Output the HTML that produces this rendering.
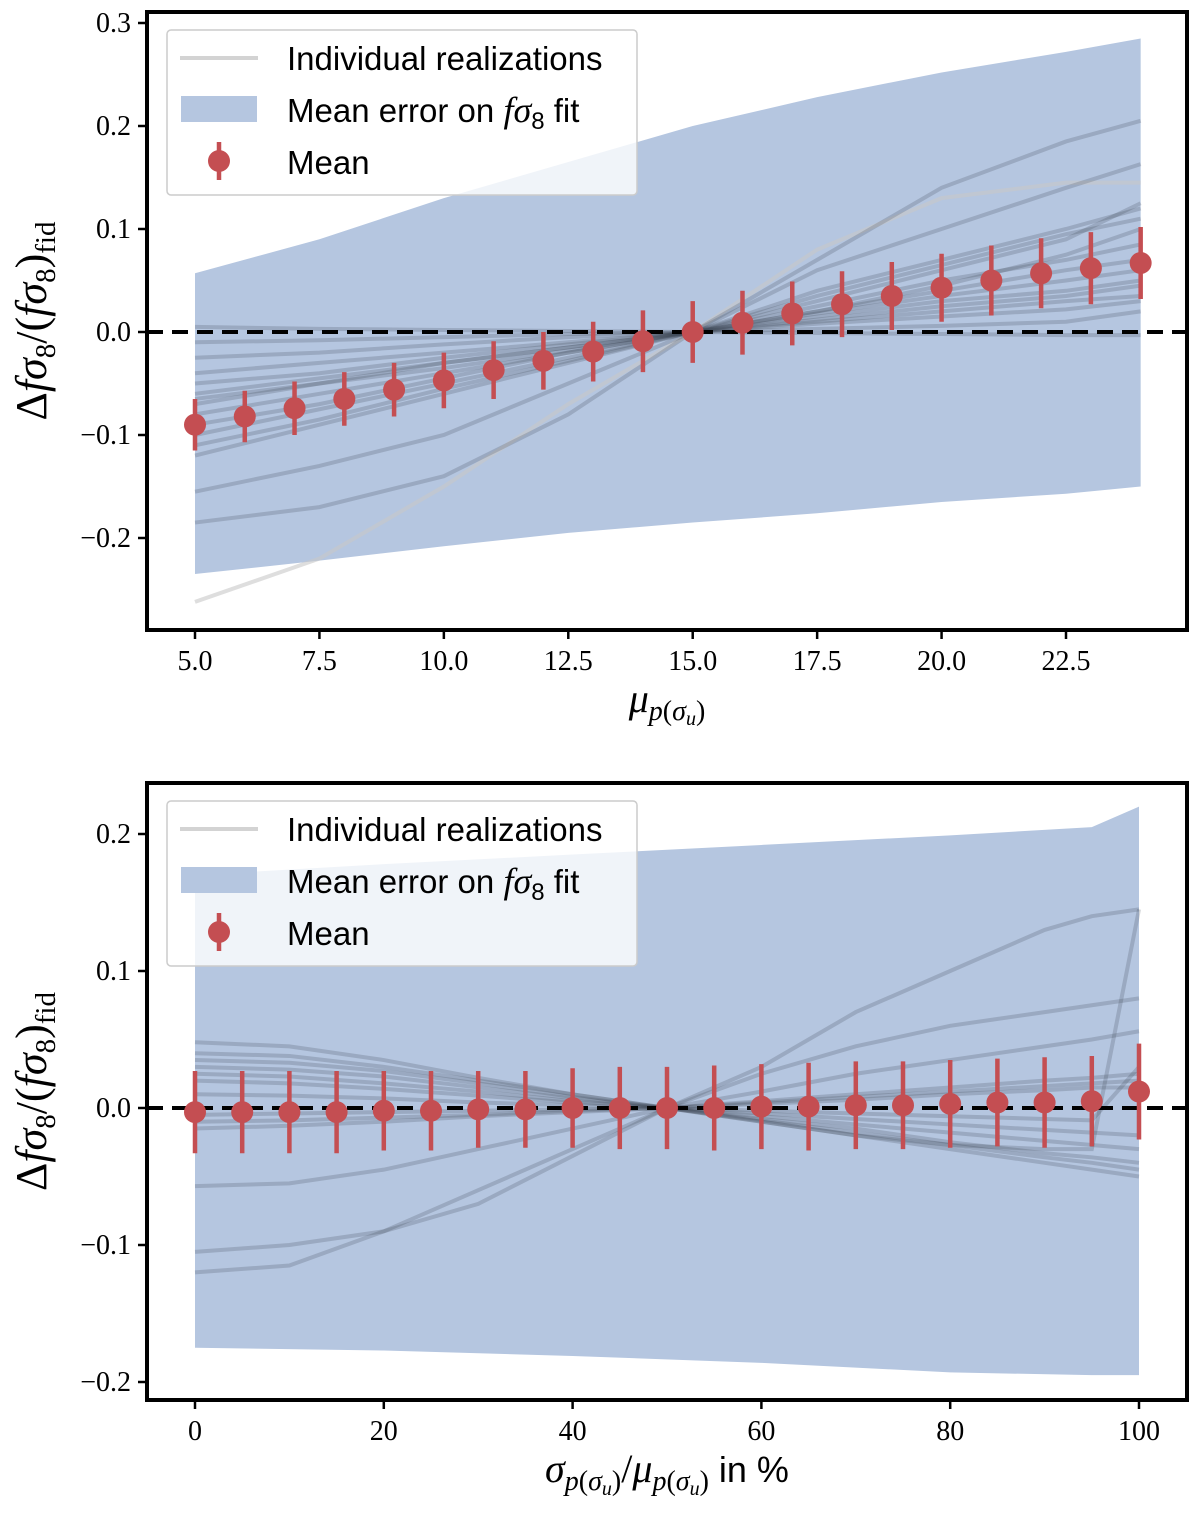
<!DOCTYPE html>
<html><head><meta charset="utf-8"><style>
body{margin:0;background:#fff}
svg text{font-family:"Liberation Serif",serif;fill:#000}
</style></head><body>
<svg id="s" width="1200" height="1516" xmlns="http://www.w3.org/2000/svg"></svg>
<script>
// ---------- top panel data ----------
const topX = [5,7.5,10,12.5,15,17.5,20,22.5,24];
const topLines = [
[-0.262,-0.22,-0.15,-0.07,0,0.08,0.13,0.145,0.145],
[-0.185,-0.17,-0.14,-0.08,0,0.07,0.14,0.185,0.205],
[-0.155,-0.13,-0.1,-0.05,0,0.06,0.10,0.14,0.163],
[-0.12,-0.09,-0.06,-0.03,0,0.04,0.07,0.10,0.12],
[-0.11,-0.085,-0.055,-0.028,0,0.035,0.065,0.095,0.11],
[-0.1,-0.075,-0.05,-0.025,0,0.03,0.06,0.09,0.125],
[-0.09,-0.07,-0.045,-0.02,0,0.025,0.05,0.07,0.085],
[-0.08,-0.06,-0.04,-0.02,0,0.02,0.04,0.06,0.07],
[-0.07,-0.05,-0.035,-0.018,0,0.018,0.035,0.05,0.06],
[-0.06,-0.045,-0.03,-0.015,0,0.015,0.03,0.04,0.05],
[-0.05,-0.04,-0.025,-0.012,0,0.012,0.025,0.035,0.045],
[-0.04,-0.03,-0.02,-0.01,0,0.01,0.02,0.03,0.035],
[-0.025,-0.02,-0.012,-0.005,0,0.008,0.015,0.022,0.03],
[-0.01,-0.008,-0.005,-0.002,0,0.003,0.006,0.01,0.02],
[0.005,0.003,0.002,0.001,0,-0.001,-0.002,-0.003,-0.003],
[-0.065,-0.05,-0.03,-0.015,0,0.02,0.045,0.075,0.1]];
const topBandX = [5,7.5,10,12.5,15,17.5,20,22.5,24];
const topBandHi = [0.057,0.09,0.13,0.165,0.2,0.228,0.252,0.272,0.285];
const topBandLo = [-0.235,-0.222,-0.208,-0.195,-0.185,-0.176,-0.165,-0.157,-0.15];
const topMeanX = [5,6,7,8,9,10,11,12,13,14,15,16,17,18,19,20,21,22,23,24];
const topMean = [-0.09,-0.082,-0.074,-0.065,-0.056,-0.047,-0.037,-0.028,-0.019,-0.009,0,0.009,0.018,0.027,0.035,0.043,0.05,0.057,0.062,0.067];
const topErr = [0.025,0.025,0.026,0.026,0.026,0.027,0.028,0.028,0.029,0.03,0.03,0.031,0.031,0.032,0.033,0.033,0.034,0.034,0.035,0.035];
const topXTicks = [5,7.5,10,12.5,15,17.5,20,22.5];
const topXTickLabels = ["5.0","7.5","10.0","12.5","15.0","17.5","20.0","22.5"];
const topYTicks = [-0.2,-0.1,0,0.1,0.2,0.3];
const topYTickLabels = ["\u22120.2","\u22120.1","0.0","0.1","0.2","0.3"];
// ---------- bottom panel data ----------
const botX = [0,10,20,30,40,50,60,70,80,90,95,100];
const botLines = [
[-0.12,-0.115,-0.09,-0.06,-0.03,0,0.03,0.07,0.1,0.13,0.14,0.145],
[-0.105,-0.1,-0.09,-0.07,-0.035,0,0.025,0.045,0.06,0.07,0.075,0.08],
[-0.057,-0.055,-0.045,-0.03,-0.015,0,0.012,0.025,0.035,0.045,0.05,0.056],
[0.048,0.045,0.035,0.022,0.01,0,-0.008,-0.015,-0.025,-0.033,-0.036,-0.04],
[0.04,0.038,0.03,0.02,0.01,0,-0.01,-0.02,-0.027,-0.03,-0.03,0.145],
[0.035,0.033,0.027,0.018,0.008,0,-0.01,-0.02,-0.03,-0.04,-0.045,-0.05],
[0.03,0.028,0.023,0.015,0.007,0,-0.009,-0.018,-0.027,-0.036,-0.04,-0.045],
[0.025,0.023,0.018,0.012,0.005,0,-0.006,-0.012,-0.018,-0.024,-0.027,-0.03],
[0.02,0.018,0.014,0.009,0.004,0,-0.004,-0.008,-0.012,-0.016,-0.018,-0.02],
[-0.015,-0.013,-0.01,-0.006,-0.003,0,0.004,0.008,0.012,0.016,0.018,0.02],
[-0.01,-0.009,-0.007,-0.005,-0.002,0,0.005,0.01,0.015,0.02,0.022,0.025],
[0.01,0.009,0.007,0.004,0.002,0,-0.002,-0.004,-0.006,-0.008,-0.009,0.03],
[-0.005,-0.004,-0.003,-0.002,-0.001,0,0.003,0.006,0.01,0.013,0.015,0.015]];
const botBandX = [0,20,40,60,80,95,100];
const botBandHi = [0.17,0.178,0.185,0.192,0.199,0.205,0.22];
const botBandLo = [-0.175,-0.177,-0.181,-0.186,-0.193,-0.195,-0.195];
const botMeanX = [0,5,10,15,20,25,30,35,40,45,50,55,60,65,70,75,80,85,90,95,100];
const botMean = [-0.003,-0.003,-0.003,-0.003,-0.002,-0.002,-0.001,-0.001,0,0,0,0,0.001,0.001,0.002,0.002,0.003,0.004,0.004,0.005,0.012];
const botErr = [0.03,0.03,0.03,0.03,0.029,0.029,0.028,0.028,0.029,0.03,0.03,0.031,0.031,0.032,0.032,0.032,0.032,0.032,0.033,0.033,0.035];
const botXTicks = [0,20,40,60,80,100];
const botXTickLabels = ["0","20","40","60","80","100"];
const botYTicks = [-0.2,-0.1,0,0.1,0.2];
const botYTickLabels = ["\u22120.2","\u22120.1","0.0","0.1","0.2"];

const NS="http://www.w3.org/2000/svg";
const svg=document.getElementById('s');
function el(tag,attrs,parent){const e=document.createElementNS(NS,tag);for(const k in attrs)e.setAttribute(k,attrs[k]);(parent||svg).appendChild(e);return e;}
function lin(d0,d1,r0,r1){return v=>r0+(v-d0)*(r1-r0)/(d1-d0);}

function panel(P){
  const g=el('g',{});
  
  
  const sx=P.sx, sy=P.sy;
  let d='M'+P.bandX.map((x,i)=>sx(x)+','+sy(P.bandHi[i])).join(' L');
  for(let i=P.bandX.length-1;i>=0;i--) d+=' L'+sx(P.bandX[i])+','+sy(P.bandLo[i]);
  const band=el('path',{d:d+'Z',fill:'#b5c6e0'},g);
  
  
  P.lines.forEach((ln,j)=>{
    const p=el('polyline',{points:P.lx.map((x,i)=>sx(x)+','+sy(ln[i])).join(' '),fill:'none',stroke:j===0&&P.lightFirst?'rgba(200,200,200,0.6)':'rgba(60,70,80,0.22)','stroke-width':4},g);
    
    
  });
  const z=el('line',{x1:P.x0,x2:P.x1,y1:sy(0),y2:sy(0),stroke:'#000','stroke-width':4,'stroke-dasharray':'16 9'},g);
  
  
  P.mx.forEach((x,i)=>{
    const b=el('line',{x1:sx(x),x2:sx(x),y1:sy(P.m[i]-P.e[i]),y2:sy(P.m[i]+P.e[i]),stroke:'#c44e52','stroke-width':4.5},g);
    
    
    const c=el('circle',{cx:sx(x),cy:sy(P.m[i]),r:11,fill:'#c44e52'},g);
    
    
  });
  const f=el('rect',{x:P.x0,y:P.y0,width:P.x1-P.x0,height:P.y1-P.y0,fill:'none',stroke:'#000','stroke-width':4},g);
  
  
  P.xt.forEach((v,i)=>{
    el('line',{x1:sx(v),x2:sx(v),y1:P.y1,y2:P.y1+9,stroke:'#000','stroke-width':2.5},g);
    const t=el('text',{x:sx(v),y:P.y1+40,'text-anchor':'middle','font-size':28},g);
    t.textContent=P.xl[i];
    
    
  });
  P.yt.forEach((v,i)=>{
    el('line',{x1:P.x0-9,x2:P.x0,y1:sy(v),y2:sy(v),stroke:'#000','stroke-width':2.5},g);
    const t=el('text',{x:P.x0-16,y:sy(v)+9,'text-anchor':'end','font-size':28},g);
    t.textContent=P.yl[i];
    
    
  });
  const yl=el('text',{transform:`translate(46,${(P.y0+P.y1)/2}) rotate(-90)`,'text-anchor':'middle','font-size':44},g);
  yl.innerHTML='Δ<tspan font-style="italic">fσ</tspan><tspan font-size="29" dy="9">8</tspan><tspan dy="-9">/(</tspan><tspan font-style="italic">fσ</tspan><tspan font-size="29" dy="9">8</tspan><tspan dy="-9">)</tspan><tspan font-size="29" dy="9">fid</tspan>';
  
  
  const L=el('g',{},g);
  
  
  const ly=P.y0+18;
  el('rect',{x:167,y:ly,width:470,height:165,rx:4,fill:'rgba(255,255,255,0.8)',stroke:'#ccc','stroke-width':1.5},L);
  el('line',{x1:180,x2:258,y1:ly+28,y2:ly+28,stroke:'rgba(200,200,200,0.8)','stroke-width':4},L);
  el('rect',{x:181,y:ly+66,width:76,height:26,fill:'#b5c6e0'},L);
  el('line',{x1:219,x2:219,y1:ly+112,y2:ly+150,stroke:'#c44e52','stroke-width':4.5},L);
  el('circle',{cx:219,cy:ly+131,r:11,fill:'#c44e52'},L);
  const texts=['Individual realizations','Mean error on <tspan font-style="italic" style="font-family:\'Liberation Serif\',serif" font-size="36">fσ</tspan><tspan font-size="24" dy="7">8</tspan><tspan dy="-7"> fit</tspan>','Mean'];
  texts.forEach((s,i)=>{
    const t=el('text',{x:287,y:ly+40+i*52,'font-size':33,style:'font-family:"Liberation Sans",sans-serif'},L);
    t.innerHTML=s;
    
    
  });
  const xl=el('text',{x:(P.x0+P.x1)/2,y:P.y1+82,'text-anchor':'middle','font-size':40},g);
  xl.innerHTML=P.xlabel;
  
  
}

panel({name:'top-panel',x0:147,x1:1187,y0:12,y1:630,
  sx:lin(5,22.5,195,1066),sy:lin(0,0.1,332,229),
  bandX:topBandX,bandHi:topBandHi,bandLo:topBandLo,lx:topX,lines:topLines,lightFirst:true,
  mx:topMeanX,m:topMean,e:topErr,xt:topXTicks,xl:topXTickLabels,yt:topYTicks,yl:topYTickLabels,
  xlabel:'<tspan font-style="italic">μ</tspan><tspan font-size="28" dy="8"><tspan font-style="italic">p</tspan>(<tspan font-style="italic">σ</tspan><tspan font-size="20" dy="5" font-style="italic">u</tspan><tspan dy="-5">)</tspan></tspan>'});
panel({name:'bottom-panel',x0:147,x1:1187,y0:783,y1:1400,
  sx:lin(0,100,195,1139),sy:lin(0,0.1,1108,971),
  bandX:botBandX,bandHi:botBandHi,bandLo:botBandLo,lx:botX,lines:botLines,lightFirst:false,
  mx:botMeanX,m:botMean,e:botErr,xt:botXTicks,xl:botXTickLabels,yt:botYTicks,yl:botYTickLabels,
  xlabel:'<tspan font-style="italic">σ</tspan><tspan font-size="28" dy="8"><tspan font-style="italic">p</tspan>(<tspan font-style="italic">σ</tspan><tspan font-size="20" dy="5" font-style="italic">u</tspan><tspan dy="-5">)</tspan></tspan><tspan dy="-8">/</tspan><tspan font-style="italic">μ</tspan><tspan font-size="28" dy="8"><tspan font-style="italic">p</tspan>(<tspan font-style="italic">σ</tspan><tspan font-size="20" dy="5" font-style="italic">u</tspan><tspan dy="-5">)</tspan></tspan><tspan dy="-8" font-size="36" style="font-family:\'Liberation Sans\',sans-serif"> in %</tspan>'});
</script>
</body></html>
